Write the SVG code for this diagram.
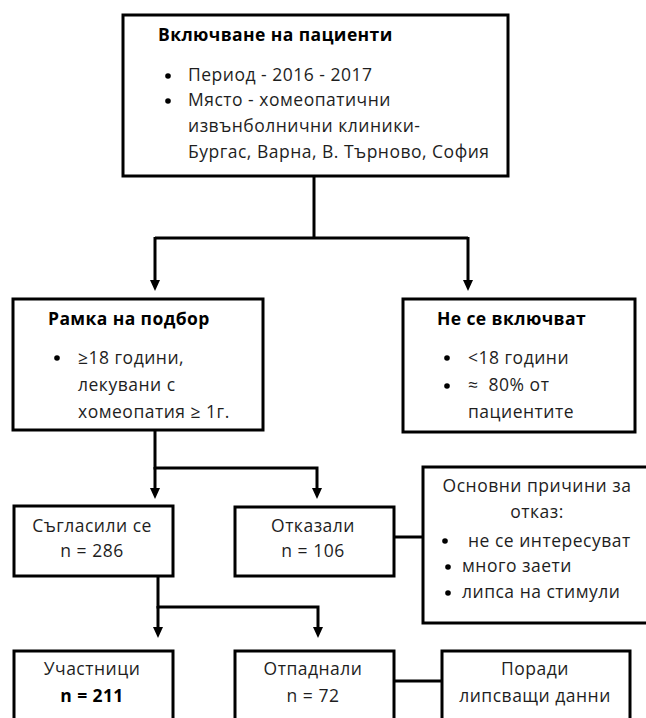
<svg xmlns="http://www.w3.org/2000/svg" width="646" height="718" viewBox="0 0 646 718">
<defs>
<style>
.box{fill:#fff;stroke:#000;stroke-width:3}
.ln{fill:none;stroke:#000;stroke-width:3}
.ah{fill:#000}
text{font-family:"Open Sans","Noto Sans","DejaVu Sans",sans-serif;font-size:17.5px;letter-spacing:0.5px;fill:#1e1e1e}
.b{font-weight:bold;fill:#000;letter-spacing:0.4px}
.c{text-anchor:middle}
.dot{fill:#000}
</style>
</defs>
<g id="connectors">
<path class="ln" d="M314,176 V238"/>
<path class="ln" d="M155,238 H468"/>
<path class="ln" d="M155,237 V282"/>
<path class="ln" d="M468,237 V282"/>
<polygon class="ah" points="150,280 160,280 155,291"/>
<polygon class="ah" points="463,280 473,280 468,291"/>
<path class="ln" d="M155,430 V468 H317 V489"/>
<path class="ln" d="M155,467 V489"/>
<polygon class="ah" points="150,488 160,488 155,499"/>
<polygon class="ah" points="312,488 322,488 317,499"/>
<path class="ln" d="M394,537 H423"/>
<path class="ln" d="M158,576 V607 H318 V628"/>
<path class="ln" d="M158,606 V628"/>
<polygon class="ah" points="153,627 163,627 158,638"/>
<polygon class="ah" points="313,627 323,627 318,638"/>
<path class="ln" d="M394,681 H442"/>
</g>
<g id="inclusion">
<rect class="box" x="123" y="15" width="385" height="161"/>
<text class="b" x="158" y="41">Включване на пациенти</text>
<circle class="dot" cx="168" cy="76" r="2.8"/>
<text x="188" y="81">Период - 2016 - 2017</text>
<circle class="dot" cx="168" cy="101" r="2.8"/>
<text x="188" y="106">Място - хомеопатични</text>
<text x="188" y="132">извънболнични клиники-</text>
<text x="188" y="158">Бургас, Варна, В. Търново, София</text>
</g>
<g id="frame">
<rect class="box" x="13" y="299" width="250" height="131"/>
<text class="b" x="48" y="325">Рамка на подбор</text>
<circle class="dot" cx="57" cy="358" r="2.8"/>
<text x="78" y="364">≥18 години,</text>
<text x="78" y="391">лекувани с</text>
<text x="78" y="418">хомеопатия ≥ 1г.</text>
</g>
<g id="excluded">
<rect class="box" x="403" y="299" width="232" height="133"/>
<text class="b" x="437" y="325">Не се включват</text>
<circle class="dot" cx="447" cy="358" r="2.8"/>
<text x="468" y="364">&lt;18 години</text>
<circle class="dot" cx="447" cy="386" r="2.8"/>
<text x="468" y="391" style="white-space:pre">≈  80% от</text>
<text x="468" y="418">пациентите</text>
</g>
<g id="agreed">
<rect class="box" x="14" y="506" width="159" height="70"/>
<text class="c" x="92" y="532">Съгласили се</text>
<text class="c" x="92" y="557">n = 286</text>
</g>
<g id="refused">
<rect class="box" x="235" y="507" width="159" height="69"/>
<text class="c" x="313" y="532">Отказали</text>
<text class="c" x="313" y="557">n = 106</text>
</g>
<g id="reasons">
<rect class="box" x="423" y="467" width="230" height="156"/>
<text class="c" x="537" y="492">Основни причини за</text>
<text class="c" x="537" y="518">отказ:</text>
<circle class="dot" cx="445" cy="541" r="2.8"/>
<text x="468" y="547">не се интересуват</text>
<circle class="dot" cx="448" cy="567" r="2.8"/>
<text x="462" y="572">много заети</text>
<circle class="dot" cx="448" cy="593" r="2.8"/>
<text x="462" y="598">липса на стимули</text>
</g>
<g id="participants">
<rect class="box" x="14" y="651" width="159" height="80"/>
<text class="c" x="92" y="675">Участници</text>
<text class="c b" x="92" y="702">n = 211</text>
</g>
<g id="dropped">
<rect class="box" x="235" y="651" width="159" height="80"/>
<text class="c" x="313" y="675">Отпаднали</text>
<text class="c" x="313" y="702">n = 72</text>
</g>
<g id="missing">
<rect class="box" x="442" y="651" width="188" height="80"/>
<text class="c" x="535" y="675">Поради</text>
<text class="c" x="535" y="702">липсващи данни</text>
</g>
</svg>
